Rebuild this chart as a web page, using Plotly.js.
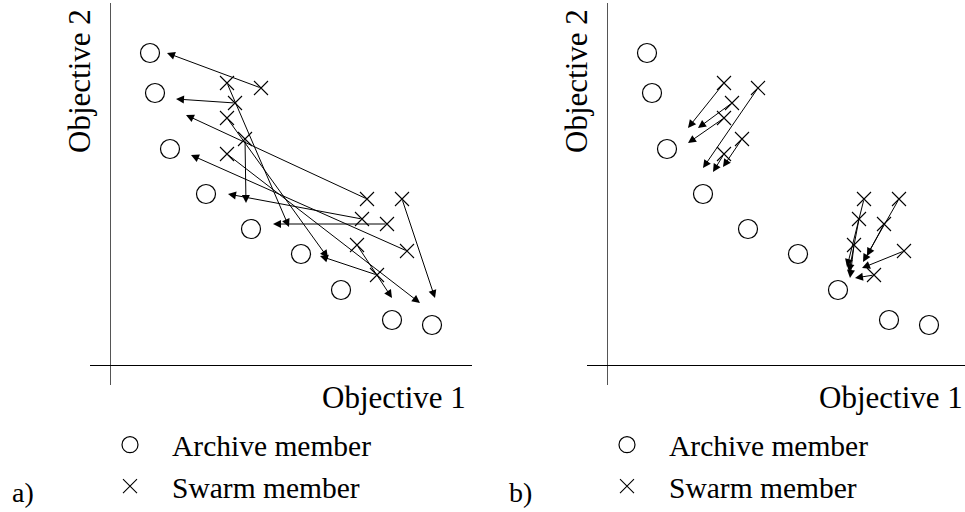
<!DOCTYPE html>
<html>
<head>
<meta charset="utf-8">
<script src="https://cdn.plot.ly/plotly-3.0.1.min.js"></script>
<style>html,body{margin:0;padding:0;background:#fff;}#chart{width:965px;height:512px;}</style>
</head>
<body>
<div id="chart"></div>
<script>
// Archive members (Objective 1, Objective 2) - same in both panels
const archiveObj1 = [40, 45, 60, 96, 141, 191, 231, 282, 322];
const archiveObj2 = [312, 272, 216, 171, 136, 111, 75, 45, 40];
// Swarm members - same positions in both panels
const swarmObj1 = [117, 151, 125, 117, 135, 117, 257, 292, 252, 277, 247, 297, 267];
const swarmObj2 = [282, 277, 262, 247, 226, 211, 166, 166, 146, 141, 120, 114, 90];
// Panel a): where each swarm member moves (arrow head)
const moveAObj1 = [179, 57, 66, 218, 136, 310, 76, 325, 118, 163, 282, 81, 210];
const moveAObj2 = [138, 312, 266, 107, 162, 62, 250, 67, 171, 141, 67, 210, 109];
// Panel b): where each swarm member moves (arrow head)
const moveBObj1 = [81, 96, 91, 81, 116, 106, 240, 256, 242, 260, 243, 255, 248];
const moveBObj2 = [237, 197, 237, 222, 198, 193, 98, 103, 93, 109, 87, 97, 87];
// Text
const axisX = 'Objective 1';
const axisY = 'Objective 2';
const legendNames = ['Archive member', 'Swarm member'];
const panelLabels = ['a)', 'b)'];

const FONT = 'Liberation Serif';

function panelTraces(xa, ya, leg) {
  return [
    {x: archiveObj1, y: archiveObj2, xaxis: xa, yaxis: ya, type: 'scatter', mode: 'markers',
     name: legendNames[0], legend: leg, showlegend: true,
     marker: {symbol: 'circle-open', size: 19, color: '#000', line: {width: 1.2, color: '#000'}}},
    {x: swarmObj1, y: swarmObj2, xaxis: xa, yaxis: ya, type: 'scatter', mode: 'markers',
     name: legendNames[1], legend: leg, showlegend: true,
     marker: {symbol: 'x-thin-open', size: 14, color: '#000', line: {width: 1.1, color: '#000'}}}
  ];
}

const data = panelTraces('x', 'y', 'legend').concat(panelTraces('x2', 'y2', 'legend2'));

function arrows(tx, ty, xr, yr) {
  return swarmObj1.map((sx, i) => ({
    x: tx[i], y: ty[i], ax: sx, ay: swarmObj2[i],
    xref: xr, yref: yr, axref: xr, ayref: yr,
    text: '', showarrow: true, arrowhead: 2, arrowsize: 1.6, arrowwidth: 1,
    arrowcolor: '#000', standoff: 0, startstandoff: 0
  }));
}

const txt = (text, x, y, xanchor, angle, yanchor, size) => ({
  text: text, xref: 'paper', yref: 'paper', x: x, y: y, xanchor: xanchor, yanchor: yanchor || 'middle',
  showarrow: false, textangle: angle || 0, font: {family: FONT, size: size || 31, color: '#000'}
});

const annotations = arrows(moveAObj1, moveAObj2, 'x', 'y')
  .concat(arrows(moveBObj1, moveBObj2, 'x2', 'y2'))
  .concat([
    txt(axisY, 79/965, (512-81)/512, 'center', -90),
    txt(axisY, 576/965, (512-81)/512, 'center', -90),
    txt(axisX, 468/965, (512-397)/512, 'right'),
    txt(axisX, 965/965, (512-397)/512, 'right'),
    txt(panelLabels[0], 10/965, 2/512, 'left', 0, 'bottom', 28),
    txt(panelLabels[1], 507/965, 2/512, 'left', 0, 'bottom', 28)
  ]);

const axBase = {showgrid: false, showticklabels: false, ticks: '', showline: false,
  zeroline: true, zerolinewidth: 1, fixedrange: true};
const yDom = [(512-385)/512, (512-3)/512];

const legBase = {font: {family: FONT, size: 29.5, color: '#000'}, bgcolor: 'rgba(0,0,0,0)',
  itemwidth: 74, yanchor: 'bottom', xanchor: 'left', tracegroupgap: 0, itemclick: false,
  itemdoubleclick: false};

const layout = {
  width: 965, height: 512, margin: {l: 0, r: 0, t: 0, b: 0, autoexpand: false},
  font: {family: FONT, color: '#000'},
  paper_bgcolor: '#fff', plot_bgcolor: '#fff', hovermode: false,
  xaxis: Object.assign({}, axBase, {domain: [90/965, 472/965], range: [-20, 362], zerolinecolor: '#555', anchor: 'y'}),
  yaxis: Object.assign({}, axBase, {domain: yDom, range: [-20, 362], zerolinecolor: '#000', anchor: 'x'}),
  xaxis2: Object.assign({}, axBase, {domain: [587/965, 1], range: [-20, 358], zerolinecolor: '#555', anchor: 'y2'}),
  yaxis2: Object.assign({}, axBase, {domain: yDom, range: [-20, 362], zerolinecolor: '#000', anchor: 'x2'}),
  legend: Object.assign({}, legBase, {x: 88/965, y: 0}),
  legend2: Object.assign({}, legBase, {x: 585/965, y: 0}),
  annotations: annotations
};

Plotly.newPlot('chart', data, layout, {staticPlot: true, displayModeBar: false});
</script>
</body>
</html>
